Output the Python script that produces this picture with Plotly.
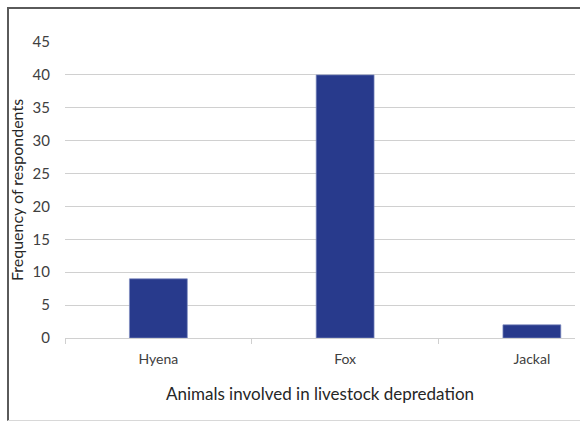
import plotly.graph_objects as go

categories = ["Hyena", "Fox", "Jackal"]
values = [9, 40, 2]
y_ticks = [0, 5, 10, 15, 20, 25, 30, 35, 40, 45]

W, H = 580, 422
L, R, T, B = 65, 575, 41.5, 338.5

def px(x):
    return (x - L) / (R - L)

def py(y):
    return (B - y) / (B - T)

fig = go.Figure(go.Bar(
    x=categories, y=values,
    marker=dict(color="#283A8C", line=dict(color="#7F8CC0", width=0.7)),
    width=0.31,
))

font = "Lato, 'Open Sans', sans-serif"
fig.update_layout(
    width=W, height=H,
    margin=dict(l=L, r=W - R, t=T, b=H - B, pad=0),
    paper_bgcolor="white", plot_bgcolor="white",
    showlegend=False,
    font=dict(family=font, color="#404040"),
    xaxis=dict(
        type="category",
        range=[-0.5, -0.5 + (R - L) / 186.75],
        showgrid=False,
        showline=True, linecolor="#D0D0D0", linewidth=1.3,
        ticks="outside", tickson="boundaries", ticklen=5, tickcolor="#D0D0D0",
        tickfont=dict(size=14, color="#404040"),
        ticklabelstandoff=8,
        title=dict(text="Animals involved in livestock depredation",
                   font=dict(size=17, color="#262626"), standoff=22),
        fixedrange=True,
    ),
    yaxis=dict(
        range=[0, 45], tickvals=y_ticks,
        showgrid=True, gridcolor="#D0D0D0", gridwidth=1.3,
        showline=False, zeroline=False,
        tickfont=dict(size=15, color="#404040"),
        ticklabelstandoff=14,
        title=dict(text="Frequency of respondents",
                   font=dict(size=16, color="#262626"), standoff=4),
        fixedrange=True,
    ),
    shapes=[
        dict(type="line", xref="paper", yref="paper",
             x0=px(8), x1=px(8), y0=py(7), y1=py(421.5),
             line=dict(color="#5A5A5A", width=2)),
        dict(type="line", xref="paper", yref="paper",
             x0=px(7), x1=px(581), y0=py(7.5), y1=py(7.5),
             line=dict(color="#5A5A5A", width=2)),
        dict(type="line", xref="paper", yref="paper",
             x0=px(8), x1=px(581), y0=py(421.3), y1=py(421.3),
             line=dict(color="#D8D8D8", width=1)),
    ],
)

fig.write_html("out.html")
